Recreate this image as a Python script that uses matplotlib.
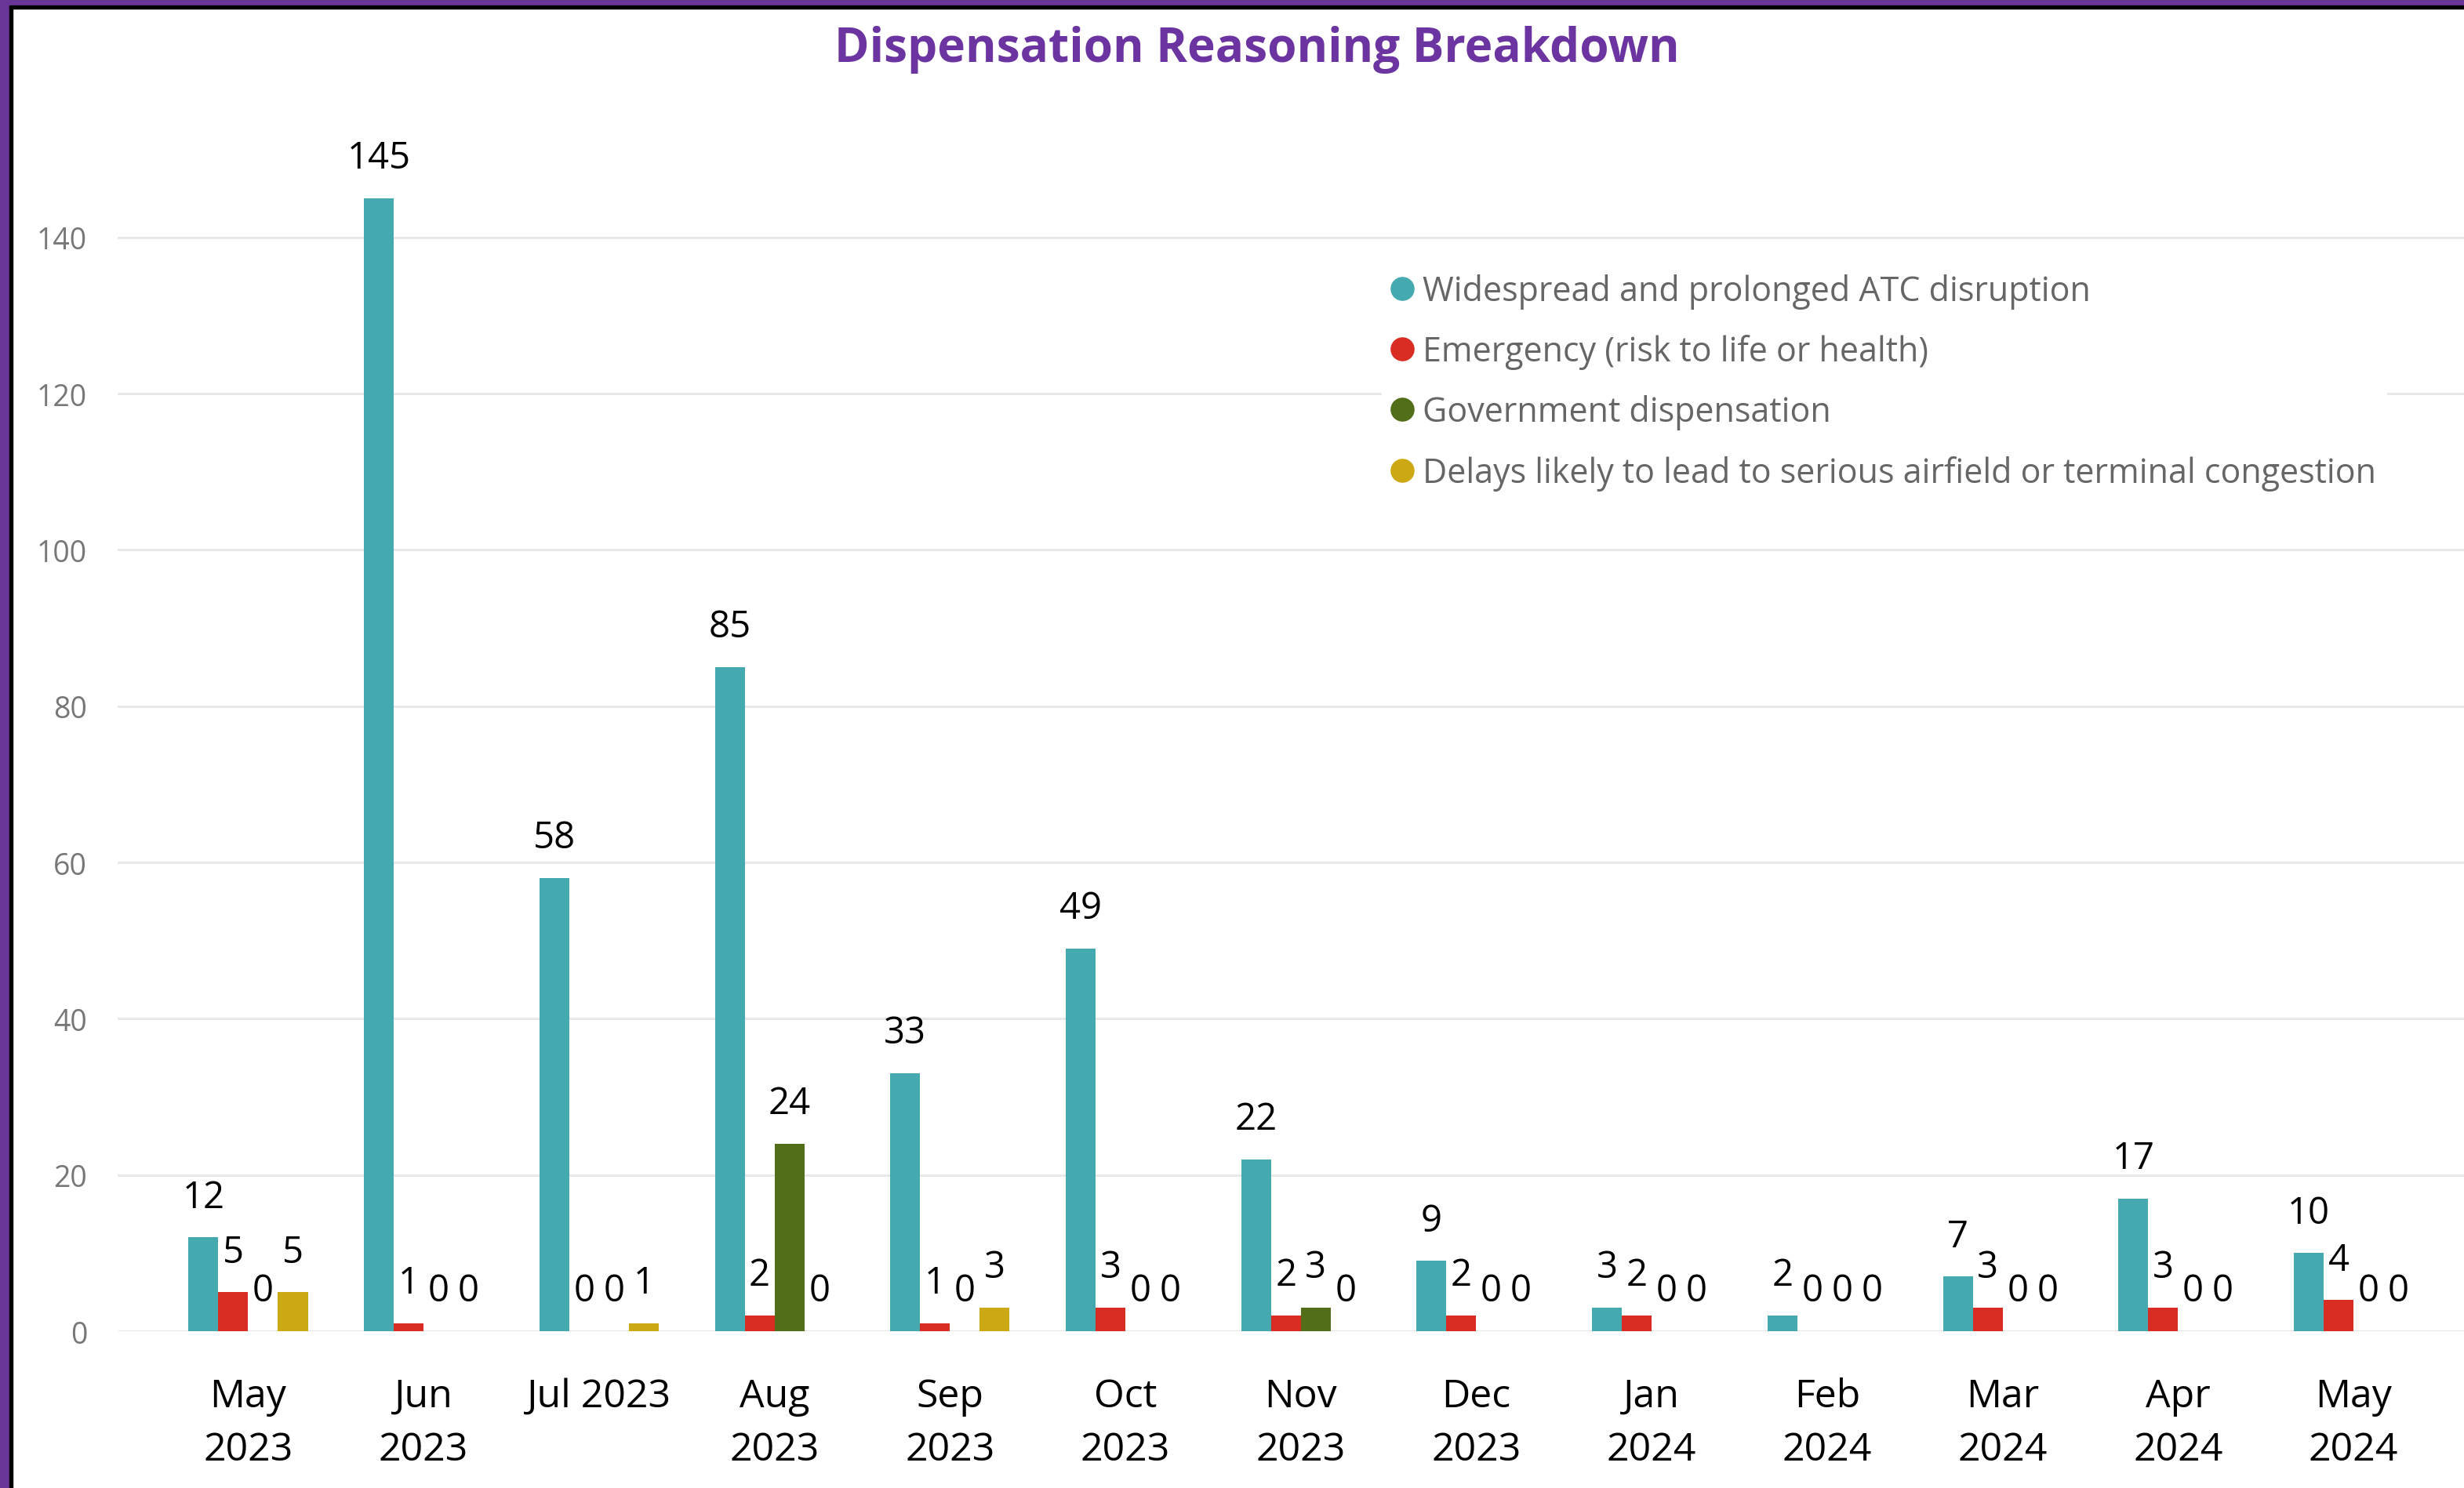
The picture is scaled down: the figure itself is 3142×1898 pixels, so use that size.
import numpy as np
import matplotlib.pyplot as plt
from matplotlib.lines import Line2D
from matplotlib.patches import Rectangle

# data
months = ["May\n2023", "Jun\n2023", "Jul 2023", "Aug\n2023", "Sep\n2023", "Oct\n2023",
          "Nov\n2023", "Dec\n2023", "Jan\n2024", "Feb\n2024", "Mar\n2024", "Apr\n2024",
          "May\n2024"]
atc = [12, 145, 58, 85, 33, 49, 22, 9, 3, 2, 7, 17, 10]
emergency = [5, 1, 0, 2, 1, 3, 2, 2, 2, 0, 3, 3, 4]
government = [0, 0, 0, 24, 0, 0, 3, 0, 0, 0, 0, 0, 0]
delays = [5, 0, 1, 0, 3, 0, 0, 0, 0, 0, 0, 0, 0]

series_names = ["Widespread and prolonged ATC disruption",
                "Emergency (risk to life or health)",
                "Government dispensation",
                "Delays likely to lead to serious airfield or terminal congestion"]
colors = ["#45AAB0", "#D92D23", "#526E19", "#CCA914"]

plt.rcParams['font.family'] = ['Open Sans', 'DejaVu Sans']

W, H = 3142, 1899
fig = plt.figure(figsize=(W / 100, H / 100), dpi=100)
fig.patch.set_facecolor("white")

ax = fig.add_axes([150 / W, 0.1053, 1 - 150 / W, 0.824])

x = np.arange(len(months))
w = 0.17
all_series = [atc, emergency, government, delays]
for i, vals in enumerate(all_series):
    off = (i - 1.5) * w
    ax.bar(x + off, vals, width=w, color=colors[i], zorder=3)
    for xi, v in zip(x, vals):
        ax.annotate(str(v), (xi + off, v), xytext=(0, 37), textcoords="offset points",
                    ha="center", va="center", fontsize=34, color="black", zorder=4)

ax.set_xlim(-0.744, 12.63)
ax.set_ylim(0, 157)
ax.set_yticks(range(0, 141, 20))
ax.yaxis.grid(True, color="#E8E8E8", linewidth=2.2, zorder=0)
ax.set_axisbelow(True)
for s in ax.spines.values():
    s.set_visible(False)
ax.tick_params(axis="y", length=0, pad=28, labelsize=27, labelcolor="#777777")
ax.tick_params(axis="x", length=0, pad=42, labelsize=36, labelcolor="black")
ax.set_xticks(x)
ax.set_xticklabels(months, linespacing=1.5)

handles = [Line2D([], [], marker="o", linestyle="none", markersize=21,
                  markerfacecolor=c, markeredgecolor=c) for c in colors]
leg = ax.legend(handles, series_names, loc="upper left",
                bbox_to_anchor=(1762 / W, 1 - 337 / H), bbox_transform=fig.transFigure,
                frameon=True, fontsize=31, labelcolor="#666666",
                handlelength=0.6, handletextpad=0.3, labelspacing=0.75,
                borderpad=0.3, borderaxespad=0)
leg.get_frame().set_facecolor("white")
leg.get_frame().set_edgecolor("white")
leg.get_frame().set_alpha(1)

fig.text(0.51, 1 - 63 / H, "Dispensation Reasoning Breakdown", ha="center", va="center",
         fontsize=43.5, fontweight="bold", color="#6B34A0")

# frame around the visual
fig.add_artist(Rectangle((0, 0), 12 / W, 1, transform=fig.transFigure, color="#6A3799", zorder=10))
fig.add_artist(Rectangle((12 / W, 0), 4 / W, 1 - 8 / H, transform=fig.transFigure, color="black", zorder=10))
fig.add_artist(Rectangle((0, 1 - 8 / H), 1, 8 / H, transform=fig.transFigure, color="#6A3799", zorder=10))
fig.add_artist(Rectangle((12 / W, 1 - 12 / H), 1, 4 / H, transform=fig.transFigure, color="black", zorder=10))

fig.savefig("out.png", dpi=100)
